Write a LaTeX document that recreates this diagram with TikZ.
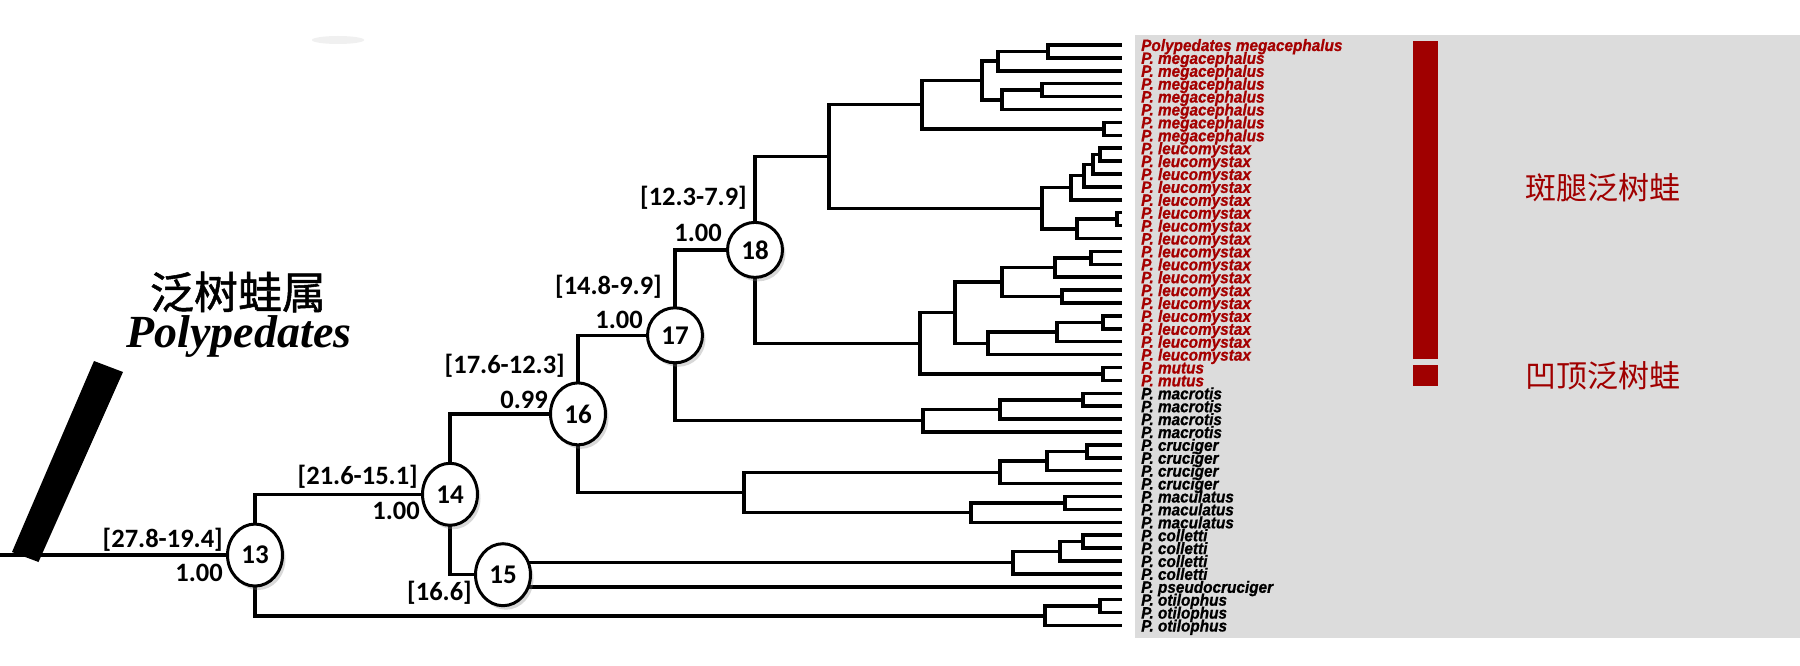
\documentclass[tikz,border=0pt]{standalone}
\usepackage{fontspec}
\setmainfont{Carlito}
\newfontfamily\tipfont[FakeStretch=0.93,FakeBold=0.8]{Liberation Sans}
\newfontfamily\cjkfont{Noto Sans CJK SC}
\newfontfamily\cjkheavy[FakeBold=1.2]{Noto Sans CJK SC}
\newfontfamily\latgenus{Liberation Serif}
\usetikzlibrary{calc,shadows,shapes.geometric}
\definecolor{darkred}{RGB}{165,0,0}
\definecolor{barred}{RGB}{160,0,0}
\definecolor{panel}{RGB}{220,220,220}
\newcommand\clade[4]{%
  \path let \p1=($(#3)!0.5!(#4)$) in coordinate (#1) at (#2pt,\y1);
  \draw[branch] (#1) |- (#3);
  \draw[branch] (#1) |- (#4);}
\newcommand\tiplabel[3]{%
  \node[tiplab,text=#3] (l#1) at ($(t#1)+(19,6)$) {#2};}
\begin{document}
\begin{tikzpicture}[x=1pt,y=-1pt,
  branch/.style={line width=3.5pt},
  tiplab/.style={anchor=base west,inner sep=0pt,
    font=\tipfont\bfseries\itshape\fontsize{16.5}{16.5}\selectfont},
  lab/.style={anchor=east,inner sep=0pt,font=\bfseries\fontsize{26.5}{26.5}\selectfont},
  nodeshadow/.style={drop shadow={opacity=0.3,shadow xshift=3pt,shadow yshift=-4pt}},
  circ/.style={circle,draw,line width=3pt,fill=white,minimum size=55pt,inner sep=0pt,
    font=\bfseries\fontsize{27}{27}\selectfont,nodeshadow},
  ell/.style={ellipse,draw,line width=3pt,fill=white,minimum width=55pt,minimum height=62pt,
    inner sep=0pt,font=\bfseries\fontsize{27}{27}\selectfont,nodeshadow}]
\useasboundingbox[fill=white] (0,0) rectangle (1800,666);
% faint ghost shadow at top
\fill[black!6] (338,40) ellipse [x radius=26pt,y radius=4pt];
% grey panel and red bars
\fill[panel] (1135,35) rectangle (1800,638);
\fill[barred] (1413,41) rectangle (1438,359);
\fill[barred] (1413,365) rectangle (1438,386);
\node[font=\cjkfont\fontsize{31}{31}\selectfont,text=barred] (sp1) at (1603,188) {斑腿泛树蛙};
\node[font=\cjkfont\fontsize{31}{31}\selectfont,text=barred] (sp2) at (1603,376) {凹顶泛树蛙};
% tips
\foreach \i in {1,...,46} \coordinate (t\i) at (1122,{45+(\i-1)*12.9});
% megacephalus
\clade{a12}{1048}{t1}{t2}
\clade{a123}{998}{a12}{t3}
\clade{a45}{1042}{t4}{t5}
\clade{a456}{1002}{a45}{t6}
\clade{a16}{982}{a123}{a456}
\clade{a78}{1104}{t7}{t8}
\clade{meg}{922}{a16}{a78}
% leucomystax A
\clade{b910}{1100}{t9}{t10}
\clade{b11}{1093}{b910}{t11}
\clade{b12}{1084}{b11}{t12}
\clade{b13}{1071}{b12}{t13}
\clade{b1415}{1117}{t14}{t15}
\clade{b16}{1077}{b1415}{t16}
\clade{leuA}{1042}{b13}{b16}
\clade{n829}{829}{meg}{leuA}
% leucomystax B and mutus
\clade{c1718}{1091}{t17}{t18}
\clade{c19}{1055}{c1718}{t19}
\clade{c2021}{1062}{t20}{t21}
\clade{c1921}{1002}{c19}{c2021}
\clade{c2223}{1103}{t22}{t23}
\clade{c24}{1057}{c2223}{t24}
\clade{c25}{988}{c24}{t25}
\clade{c955}{955}{c1921}{c25}
\clade{mut}{1103}{t26}{t27}
\clade{c920}{920}{c955}{mut}
% macrotis
\clade{d2829}{1083}{t28}{t29}
\clade{d30}{1000}{d2829}{t30}
\clade{mac}{923}{d30}{t31}
% cruciger and maculatus
\clade{e3233}{1087}{t32}{t33}
\clade{e34}{1047}{e3233}{t34}
\clade{cru}{1000}{e34}{t35}
\clade{f3637}{1065}{t36}{t37}
\clade{mcl}{971}{f3637}{t38}
\clade{cm}{744}{cru}{mcl}
% colletti
\clade{g3940}{1083}{t39}{t40}
\clade{g41}{1060}{g3940}{t41}
\clade{col}{1013}{g41}{t42}
% otilophus
\clade{h4445}{1100}{t44}{t45}
\clade{oti}{1045}{h4445}{t46}
% backbone
\clade{k18}{755}{n829}{c920}
\clade{k17}{675}{k18}{mac}
\clade{k16}{578}{k17}{cm}
\clade{k15}{503}{col}{t43}
\clade{k14}{450}{k16}{k15}
\clade{k13}{255}{k14}{oti}
\path let \p1=(k13) in coordinate (root) at (0pt,\y1);
\draw[branch] (root) -- (k13);
% genus bar
\fill (94,361) -- (123,372) -- (38.5,562) -- (12,552) -- cycle;
\node[font=\cjkheavy\fontsize{44}{44}\selectfont] (genus) at (238,292) {泛树蛙属};
\node[anchor=base,inner sep=0pt,font=\latgenus\bfseries\itshape\fontsize{46}{46}\selectfont] (genuslat) at (239,347) {Polypedates};
% node circles
\node[circ] (N18) at (k18) {18};
\node[circ] (N17) at (k17) {17};
\node[ell] (N16) at (k16) {16};
\node[ell] (N15) at (k15) {15};
\node[ell] (N14) at (k14) {14};
\node[ell] (N13) at (k13) {13};
% node labels
\node[lab] (L18a) at ($(k18)+(-8,-52)$) {[12.3-7.9]};
\node[lab] (L18b) at ($(k18)+(-33,-17)$) {1.00};
\node[lab] (L17a) at ($(k17)+(-13,-49)$) {[14.8-9.9]};
\node[lab] (L17b) at ($(k17)+(-32,-15)$) {1.00};
\node[lab] (L16a) at ($(k16)+(-13,-48)$) {[17.6-12.3]};
\node[lab] (L16b) at ($(k16)+(-30,-14)$) {0.99};
\node[lab] (L14a) at ($(k14)+(-32,-18)$) {[21.6-15.1]};
\node[lab] (L14b) at ($(k14)+(-30,17)$) {1.00};
\node[lab] (L13a) at ($(k13)+(-32,-15)$) {[27.8-19.4]};
\node[lab] (L13b) at ($(k13)+(-32,18)$) {1.00};
\node[lab] (L15a) at ($(k15)+(-31,18)$) {[16.6]};
% tip labels
\tiplabel{1}{Polypedates megacephalus}{darkred}
\foreach \i in {2,...,8} {\tiplabel{\i}{P. megacephalus}{darkred}}
\foreach \i in {9,...,25} {\tiplabel{\i}{P. leucomystax}{darkred}}
\foreach \i in {26,27} {\tiplabel{\i}{P. mutus}{darkred}}
\foreach \i in {28,...,31} {\tiplabel{\i}{P. macrotis}{black}}
\foreach \i in {32,...,35} {\tiplabel{\i}{P. cruciger}{black}}
\foreach \i in {36,...,38} {\tiplabel{\i}{P. maculatus}{black}}
\foreach \i in {39,...,42} {\tiplabel{\i}{P. colletti}{black}}
\tiplabel{43}{P. pseudocruciger}{black}
\foreach \i in {44,...,46} {\tiplabel{\i}{P. otilophus}{black}}
\end{tikzpicture}
\end{document}
